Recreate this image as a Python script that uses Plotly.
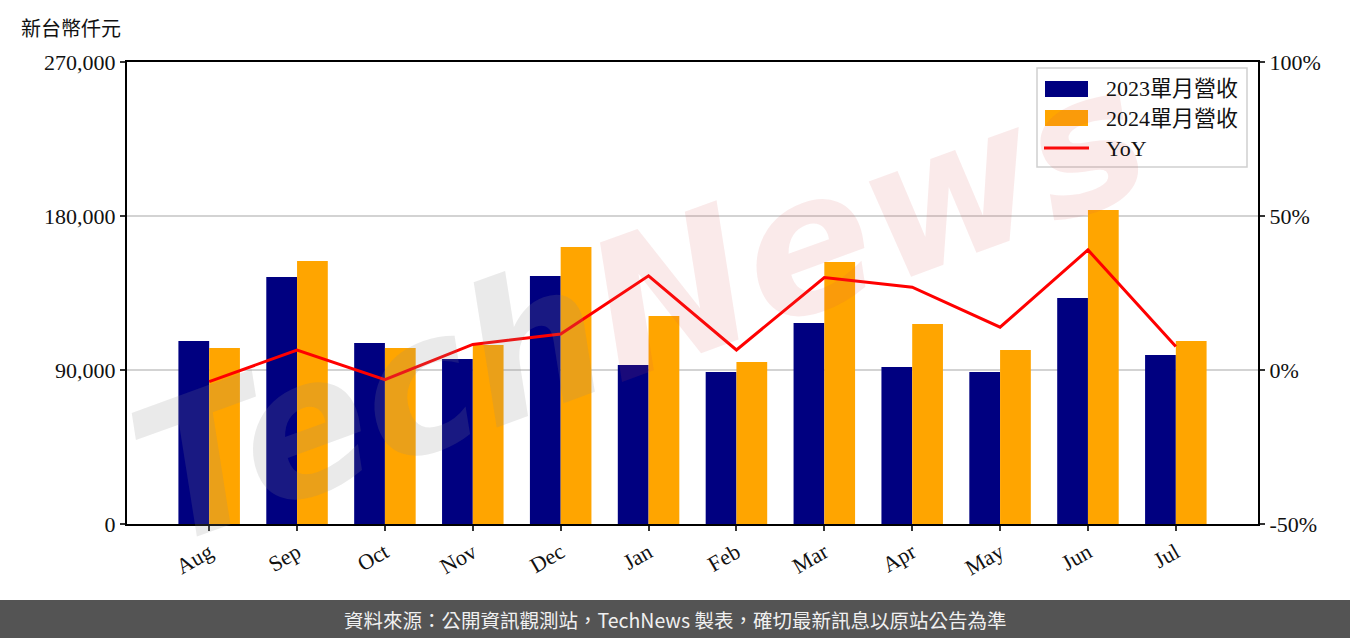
import plotly.graph_objects as go

months = ["Aug", "Sep", "Oct", "Nov", "Dec", "Jan", "Feb", "Mar", "Apr", "May", "Jun", "Jul"]
rev_2023 = [106950, 144350, 105780, 96430, 144930, 92920, 88830, 117470, 91750, 88830, 132080, 98760]
rev_2024 = [102860, 153700, 102860, 104600, 161880, 121560, 94670, 153110, 116880, 101690, 183500, 106950]
yoy = [-3.8, 6.5, -3.1, 8.3, 11.7, 30.6, 6.5, 30.0, 26.9, 13.9, 39.0, 7.6]

left_ticks = [0, 90000, 180000, 270000]
left_labels = ["0", "90,000", "180,000", "270,000"]
right_ticks = [-50, 0, 50, 100]
right_labels = ["-50%", "0%", "50%", "100%"]

names = ["2023單月營收", "2024單月營收", "YoY"]
colors = ["#000080", "#FFA500", "#FF0000"]

SERIF = "Liberation Serif, Noto Sans CJK TC, serif"

fig = go.Figure()
fig.add_trace(go.Bar(x=months, y=rev_2023, name=names[0], marker_color=colors[0],
                     width=0.35, offset=-0.35, marker_line_width=0))
fig.add_trace(go.Bar(x=months, y=rev_2024, name=names[1], marker_color=colors[1],
                     width=0.35, offset=0, marker_line_width=0))
fig.add_trace(go.Scatter(x=months, y=yoy, name=names[2], mode="lines", yaxis="y2",
                         line=dict(color=colors[2], width=3)))

L, R, T, B = 127, 92, 62, 114
W, H = 1350, 638
pw = W - L - R
ph = H - T - B

def px_x(x):
    return (x - L) / pw

def px_y(y):
    return (H - B - y) / ph

fig.update_layout(
    width=W, height=H,
    margin=dict(l=L, r=R, t=T, b=B),
    plot_bgcolor="white", paper_bgcolor="white",
    font=dict(family=SERIF, size=21, color="#111"),
    showlegend=False,
    xaxis=dict(range=[-0.935, 11.935], showline=True, linecolor="black", linewidth=2,
               mirror=True, ticks="outside", ticklen=5, tickwidth=1.5, tickcolor="#333",
               tickangle=-30, tickfont=dict(family=SERIF, size=22), showgrid=False),
    yaxis=dict(range=[0, 270000], tickvals=left_ticks, ticktext=left_labels,
               showline=True, linecolor="black", linewidth=2, ticks="outside", ticklen=5,
               tickwidth=1.5, tickcolor="#333", showgrid=True, gridcolor="#d3d3d3", gridwidth=1.5,
               zeroline=False, tickfont=dict(family=SERIF, size=22)),
    yaxis2=dict(range=[-50, 100], tickvals=right_ticks, ticktext=right_labels, overlaying="y",
                side="right", showline=True, linecolor="black", linewidth=2, ticks="outside",
                ticklen=5, tickwidth=1.5, tickcolor="#333", showgrid=False, zeroline=False,
                tickfont=dict(family=SERIF, size=22)),
)

# watermark
fig.add_annotation(xref="paper", yref="paper", x=px_x(640), y=px_y(305),
                   text='<b><i><span style="color:rgba(140,140,140,0.18)">Tech</span>'
                        '<span style="color:rgba(215,80,80,0.12)">News</span></i></b>',
                   showarrow=False, textangle=-20, xanchor="center", yanchor="middle",
                   font=dict(family="DejaVu Sans", size=190, color="rgb(140,140,140)"))

# manual legend (wide patches like the reference)
fig.add_shape(type="rect", xref="paper", yref="paper",
              x0=px_x(1037), x1=px_x(1247), y0=px_y(167), y1=px_y(68),
              fillcolor="rgba(255,255,255,0.8)", line=dict(color="#d0d0d0", width=1.5), layer="above")
fig.add_shape(type="rect", xref="paper", yref="paper",
              x0=px_x(1045), x1=px_x(1088), y0=px_y(97), y1=px_y(81),
              fillcolor=colors[0], line_width=0, layer="above")
fig.add_shape(type="rect", xref="paper", yref="paper",
              x0=px_x(1045), x1=px_x(1088), y0=px_y(126), y1=px_y(110),
              fillcolor=colors[1], line_width=0, layer="above")
fig.add_shape(type="line", xref="paper", yref="paper",
              x0=px_x(1044), x1=px_x(1089), y0=px_y(148), y1=px_y(148),
              line=dict(color=colors[2], width=3), layer="above")
for nm, yy in zip(names, [89, 118, 148]):
    fig.add_annotation(xref="paper", yref="paper", x=px_x(1104), y=px_y(yy), text=nm,
                       showarrow=False, xanchor="left", yanchor="middle",
                       font=dict(family=SERIF, size=22, color="#111"))

# footer bar
fig.add_shape(type="rect", xref="paper", yref="paper",
              x0=px_x(0), x1=px_x(W), y0=px_y(H + 2), y1=px_y(600),
              fillcolor="#545454", line_width=0, layer="above")
fig.add_annotation(xref="paper", yref="paper", x=px_x(675), y=px_y(619),
                   text="資料來源：公開資訊觀測站，TechNews 製表，確切最新訊息以原站公告為準",
                   showarrow=False, xanchor="center", yanchor="middle",
                   font=dict(family="Noto Sans CJK TC, sans-serif", size=19.5, color="#f0f0f0"))

# unit label
fig.add_annotation(xref="paper", yref="paper", x=px_x(19), y=px_y(27),
                   text="新台幣仟元", showarrow=False, xanchor="left", yanchor="middle",
                   font=dict(family="Noto Sans CJK TC, serif", size=20, color="#111"))

fig.write_html("out.html", config={"displayModeBar": False})

with open("out.html", "r", encoding="utf-8") as f:
    html = f.read()
html = html.replace("<body>", '<body style="margin:0;padding:0;">', 1)
with open("out.html", "w", encoding="utf-8") as f:
    f.write(html)
